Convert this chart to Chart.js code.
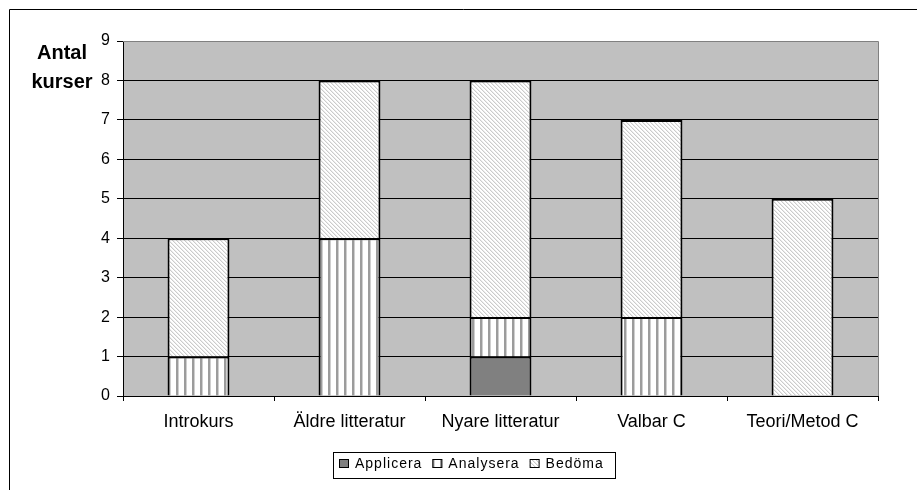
<!DOCTYPE html>
<html>
<head>
<meta charset="utf-8">
<script src="https://cdn.jsdelivr.net/npm/chart.js@4"></script>
<style>
  html, body { margin: 0; padding: 0; background: #ffffff; }
  canvas { display: block; }
</style>
</head>
<body>
<canvas id="c" width="917" height="490"></canvas>
<script>
// Courses per level of the taxonomy, per course block
const categories = ['Introkurs', 'Äldre litteratur', 'Nyare litteratur', 'Valbar C', 'Teori/Metod C'];
const applicera = [0, 0, 1, 0, 0];
const analysera = [1, 4, 1, 2, 0];
const bedoma    = [3, 4, 6, 5, 5];
const seriesNames = ['Applicera', 'Analysera', 'Bedöma'];
const yAxisTitle = ['Antal', 'kurser'];
const yMin = 0, yMax = 9, yStep = 1;

const FONT = '"Liberation Sans", Arial, sans-serif';
const canvas = document.getElementById('c');
const mainCtx = canvas.getContext('2d');

// Fill patterns for the bar segments
function verticalStripes() {
  const t = document.createElement('canvas');
  t.width = 8; t.height = 8;
  const g = t.getContext('2d');
  g.fillStyle = '#ffffff'; g.fillRect(0, 0, 8, 8);
  g.fillStyle = '#9c9c9c'; g.fillRect(0, 0, 2, 8);
  g.fillStyle = '#cfcfcf'; g.fillRect(2, 0, 1, 8);
  return mainCtx.createPattern(t, 'repeat');
}
function diagonalStripes() {
  const t = document.createElement('canvas');
  t.width = 4; t.height = 4;
  const g = t.getContext('2d');
  g.fillStyle = '#ffffff'; g.fillRect(0, 0, 4, 4);
  for (let y = 0; y < 4; y++) {
    g.fillStyle = '#cbcbcb'; g.fillRect(y, y, 1, 1);
    g.fillStyle = '#ececec'; g.fillRect((y + 1) % 4, y, 1, 1);
  }
  return mainCtx.createPattern(t, 'repeat');
}
const fills = ['#808080', verticalStripes(), diagonalStripes()];

// Outer frame, plot background and plot border
const framePlugin = {
  id: 'frame',
  beforeDraw(chart) {
    const { ctx, chartArea: a } = chart;
    ctx.save();
    ctx.fillStyle = '#c0c0c0';
    ctx.fillRect(a.left, a.top, a.right - a.left, a.bottom - a.top);
    ctx.strokeStyle = '#000000';
    ctx.lineWidth = 1;
    ctx.beginPath();
    ctx.moveTo(9.5, 490); ctx.lineTo(9.5, 9.5); ctx.lineTo(917, 9.5);
    ctx.stroke();
    ctx.restore();
  },
  beforeDatasetsDraw(chart) {
    const { ctx, chartArea: a } = chart;
    ctx.save();
    ctx.strokeStyle = '#808080';
    ctx.lineWidth = 1;
    ctx.beginPath();
    ctx.moveTo(a.left, Math.round(a.top) + 0.5);
    ctx.lineTo(Math.round(a.right) + 0.5, Math.round(a.top) + 0.5);
    ctx.lineTo(Math.round(a.right) + 0.5, a.bottom);
    ctx.stroke();
    ctx.restore();
  },
  afterDraw(chart) {
    const { ctx } = chart;
    ctx.save();
    // Axis title, two lines, beside the top of the value axis
    ctx.fillStyle = '#000000';
    ctx.font = 'bold 20px ' + FONT;
    ctx.textAlign = 'center';
    ctx.textBaseline = 'alphabetic';
    ctx.fillText(yAxisTitle[0], 62, 59);
    ctx.fillText(yAxisTitle[1], 62, 88);

    // Boxed legend below the plot
    ctx.lineWidth = 1;
    ctx.strokeStyle = '#000000';
    ctx.strokeRect(333.5, 452.5, 282, 26);
    ctx.font = '14px ' + FONT;
    if ('letterSpacing' in ctx) ctx.letterSpacing = '1px';
    ctx.textAlign = 'left';
    ctx.textBaseline = 'middle';
    let x = 339;
    chart.data.datasets.forEach(ds => {
      ctx.fillStyle = ds.backgroundColor;
      ctx.fillRect(x, 459, 10, 9);
      ctx.strokeRect(x + 0.5, 459.5, 9, 8);
      x += 16;
      ctx.fillStyle = '#000000';
      ctx.fillText(ds.label, x, 464);
      x += ctx.measureText(ds.label).width + 10;
    });
    ctx.restore();
  }
};

const seriesData = [applicera, analysera, bedoma];
new Chart(mainCtx, {
  type: 'bar',
  data: {
    labels: categories,
    datasets: seriesData.map((d, i) => ({
      label: seriesNames[i],
      data: d,
      backgroundColor: fills[i],
      borderColor: '#000000',
      borderWidth: 2,
      barPercentage: 0.41,
      categoryPercentage: 1.0
    }))
  },
  options: {
    responsive: false,
    animation: false,
    devicePixelRatio: 1,
    layout: { padding: { left: 0, top: 41, right: 39, bottom: 0 } },
    plugins: { legend: { display: false }, tooltip: { enabled: false } },
    scales: {
      x: {
        stacked: true,
        afterFit(scale) { scale.height = 94; },
        border: { color: '#000000', width: 1 },
        grid: { drawOnChartArea: false, drawTicks: true, tickLength: 5, color: '#000000', offset: true },
        ticks: { color: '#000000', font: { family: FONT, size: 18 }, padding: 10, maxRotation: 0, autoSkip: false }
      },
      y: {
        stacked: true,
        min: yMin, max: yMax,
        afterFit(scale) { scale.width = 123; },
        border: { color: '#000000', width: 1 },
        grid: {
          color: ctx => (ctx.tick && ctx.tick.value === yMax) ? '#808080' : '#000000',
          tickColor: '#000000',
          lineWidth: 1,
          tickLength: 6
        },
        ticks: { stepSize: yStep, color: '#000000', font: { family: FONT, size: 16 }, padding: 7 }
      }
    }
  },
  plugins: [framePlugin]
});
</script>
</body>
</html>
